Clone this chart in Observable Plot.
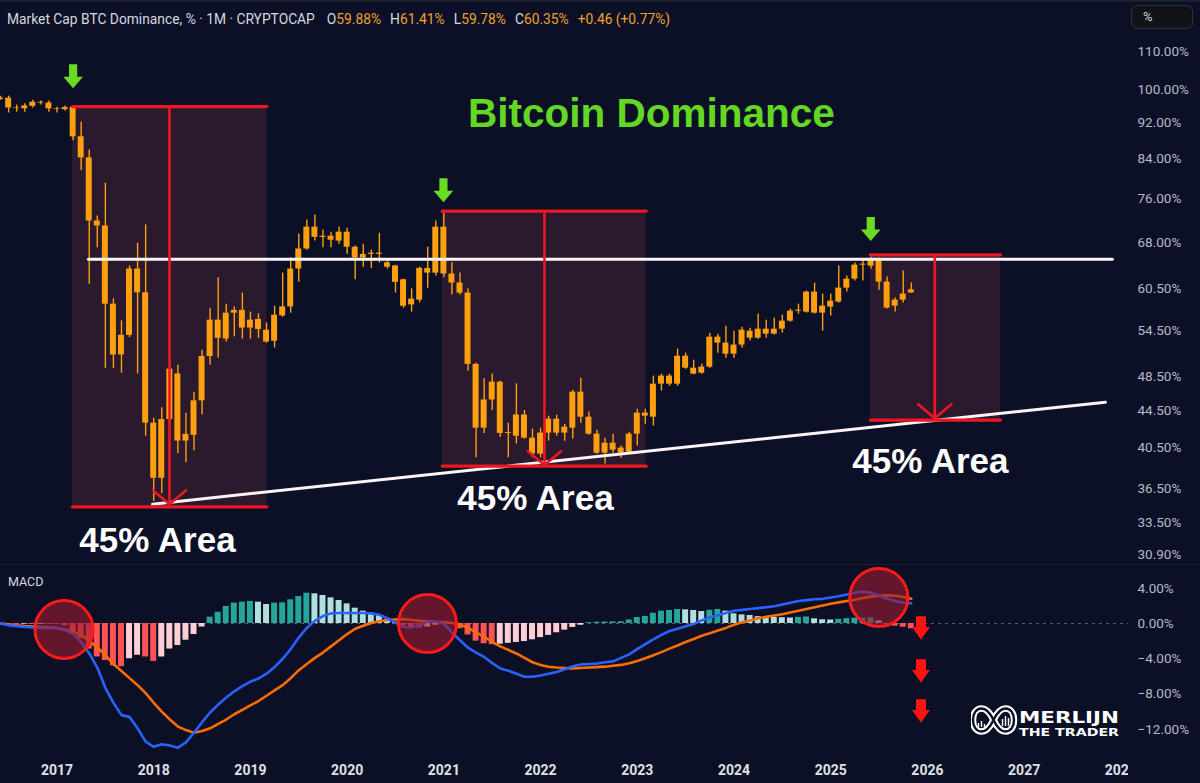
<!DOCTYPE html>
<html>
<head>
<meta charset="utf-8">
<script src="https://cdn.jsdelivr.net/npm/d3@7"></script>
<script src="https://cdn.jsdelivr.net/npm/@observablehq/plot@0.6"></script>
<style>
  html, body { margin:0; padding:0; background:#0b1027; }
  #wrap { position:relative; width:1200px; height:783px; overflow:hidden; background:#0b1027; font-family: Roboto, "Liberation Sans", Arial, sans-serif; }
  #topline { position:absolute; left:0; top:0; width:1200px; height:2px; background:#1b2031; }
  #hdr { position:absolute; left:7px; top:11px; font-size:13.8px; line-height:16px; color:#d6d8de; white-space:nowrap; }
  #hdr span.k { margin-left:9px; }
  #hdr b { font-weight:normal; color:#f0a22a; }
  #pct { position:absolute; left:1131px; top:5px; width:62px; height:24px; box-sizing:border-box; border:1px solid #2c2f38; border-radius:6px; background:#121318; color:#d1d4dc; font-size:13px; line-height:22px; padding-left:11px; }
  #main { position:absolute; left:0; top:35px; }
  #sep { position:absolute; left:0; top:564px; width:1200px; height:1px; background:#1a1f31; }
  #macd { position:absolute; left:0; top:565px; }
  #macdlbl { position:absolute; left:8px; top:574px; font-size:12.5px; color:#d6d8de; }
  #cover { position:absolute; left:1128px; top:750px; width:72px; height:33px; background:#0b1027; }
  #logo { position:absolute; left:971px; top:704px; }
</style>
</head>
<body>
<div id="wrap">
  <div id="topline"></div>
  <div id="hdr">Market Cap BTC Dominance, % · 1M · CRYPTOCAP<span class="k" style="margin-left:12px">O<b>59.88%</b></span><span class="k">H<b>61.41%</b></span><span class="k">L<b>59.78%</b></span><span class="k">C<b>60.35%</b></span><span class="k"><b>+0.46 (+0.77%)</b></span></div>
  <div id="pct">%</div>
  <div id="main"></div>
  <div id="sep"></div>
  <div id="macd"></div>
  <div id="macdlbl">MACD</div>
  <div id="cover"></div>
  <svg id="logo" width="152" height="34" viewBox="0 0 152 34">
    <path d="M22.5,16 C18.5,7.5 14.5,4.5 10.5,4.5 C5,4.5 2,9.5 2,16 C2,22.5 5,27.5 10.5,27.5 C14.5,27.5 18.5,24.5 22.5,16 C26.5,7.5 30.5,4.5 34.5,4.5 C40,4.5 43,9.5 43,16 C43,22.5 40,27.5 34.5,27.5 C30.5,27.5 26.5,24.5 22.5,16 Z" fill="none" stroke="#ffffff" stroke-width="6.5"/>
    <path d="M22.5,16 C18.5,7.5 14.5,4.5 10.5,4.5 C5,4.5 2,9.5 2,16 C2,22.5 5,27.5 10.5,27.5 C14.5,27.5 18.5,24.5 22.5,16 C26.5,7.5 30.5,4.5 34.5,4.5 C40,4.5 43,9.5 43,16 C43,22.5 40,27.5 34.5,27.5 C30.5,27.5 26.5,24.5 22.5,16 Z" fill="none" stroke="#0b1027" stroke-width="2.4"/>
    <path d="M7.5,23 V19 M10.5,23 V17 M13.5,23 V20 M31.5,22 V15 M34.5,22 V12 M37.5,22 V14" stroke="#ffffff" stroke-width="1.4"/>
    <text x="48" y="18.5" font-family="DejaVu Sans, sans-serif" font-size="15" font-weight="bold" fill="#ffffff" textLength="100" lengthAdjust="spacingAndGlyphs">MERLIJN</text>
    <text x="48" y="31.5" font-family="DejaVu Sans, sans-serif" font-size="10" font-weight="bold" fill="#ffffff" textLength="100" lengthAdjust="spacingAndGlyphs">THE TRADER</text>
  </svg>
</div>
<script>
// ---------- DATA ----------
const months = [
  "2016-06","2016-07","2016-08","2016-09","2016-10","2016-11","2016-12",
  "2017-01","2017-02","2017-03","2017-04","2017-05","2017-06","2017-07","2017-08","2017-09","2017-10","2017-11","2017-12",
  "2018-01","2018-02","2018-03","2018-04","2018-05","2018-06","2018-07","2018-08","2018-09","2018-10","2018-11","2018-12",
  "2019-01","2019-02","2019-03","2019-04","2019-05","2019-06","2019-07","2019-08","2019-09","2019-10","2019-11","2019-12",
  "2020-01","2020-02","2020-03","2020-04","2020-05","2020-06","2020-07","2020-08","2020-09","2020-10","2020-11","2020-12",
  "2021-01","2021-02","2021-03","2021-04","2021-05","2021-06","2021-07","2021-08","2021-09","2021-10","2021-11","2021-12",
  "2022-01","2022-02","2022-03","2022-04","2022-05","2022-06","2022-07","2022-08","2022-09","2022-10","2022-11","2022-12",
  "2023-01","2023-02","2023-03","2023-04","2023-05","2023-06","2023-07","2023-08","2023-09","2023-10","2023-11","2023-12",
  "2024-01","2024-02","2024-03","2024-04","2024-05","2024-06","2024-07","2024-08","2024-09","2024-10","2024-11","2024-12",
  "2025-01","2025-02","2025-03","2025-04","2025-05","2025-06","2025-07","2025-08","2025-09","2025-10","2025-11"
];
const open = [
  97.6, 97.9, 95.5, 95.3, 95.9, 96.9, 96.7,
  95.3, 95.1, 95.7, 88.8, 84.2, 71.8, 70.9, 58.2, 51.2, 53.8, 63.6, 59.9,
  43.1, 37.5, 43.5, 48.8, 41.2, 41.8, 45.6, 51.0, 55.9, 53.3, 56.9, 57.3,
  54.8, 56.0, 54.5, 53.0, 56.5, 57.8, 63.6, 66.9, 70.7, 68.9, 69.1, 68.25,
  69.8, 67.2, 65.4, 66.0, 66.2, 64.6, 64.1, 61.9, 58.1, 58.8, 63.7, 62.95,
  70.7, 62.8, 61.4, 59.85, 50.0, 42.56, 45.7, 47.8, 42.0, 41.7, 44.0, 41.5,
  39.86, 42.03, 43.54, 42.03, 42.56, 46.61, 43.76, 41.92, 39.96, 40.98, 40.47, 40.06,
  41.92, 44.21, 43.76, 47.56, 48.54, 47.56, 51.04, 49.52, 48.9, 49.65, 53.55, 52.75,
  51.3, 52.49, 54.37, 53.42, 54.64, 53.96, 54.64, 55.76, 57.19, 57.05, 60.0, 56.9,
  57.77, 58.5, 60.61, 62.0, 64.23, 64.07, 65.05, 61.54, 57.92, 58.8, 59.88
];
const high = [
  98.4, 98.4, 96.2, 96.5, 97.4, 97.2, 97.2,
  95.7, 96.0, 95.8, 92.2, 85.9, 72.7, 79.0, 59.0, 55.8, 64.1, 67.9, 71.1,
  43.65, 44.8, 50.4, 49.9, 44.2, 46.6, 51.8, 57.6, 62.2, 58.2, 57.8, 59.85,
  57.05, 56.8, 55.5, 57.9, 62.95, 65.4, 69.5, 72.0, 72.9, 70.2, 69.8, 70.7,
  70.5, 67.4, 67.7, 66.7, 69.6, 64.9, 64.2, 62.0, 60.5, 63.9, 67.2, 71.8,
  73.25, 64.6, 62.95, 60.5, 50.15, 48.2, 48.8, 47.9, 43.1, 47.6, 44.5, 42.45,
  42.56, 43.87, 43.99, 42.99, 46.84, 48.29, 44.32, 42.35, 41.5, 41.92, 40.68, 42.13,
  44.65, 44.65, 48.54, 48.78, 48.78, 51.96, 51.43, 50.53, 50.02, 54.1, 53.96, 55.06,
  54.37, 54.91, 54.78, 56.76, 55.9, 56.19, 56.62, 57.48, 58.21, 60.15, 61.38, 59.7,
  59.7, 64.07, 62.48, 64.56, 65.21, 65.54, 65.38, 62.32, 59.1, 63.27, 61.41
];
const low = [
  97.4, 94.3, 94.5, 94.5, 95.5, 96.2, 94.5,
  94.3, 94.8, 87.9, 81.5, 61.2, 67.1, 49.5, 49.5, 48.9, 53.5, 48.8, 41.7,
  35.4, 36.1, 43.1, 39.9, 39.0, 40.2, 44.0, 49.9, 50.8, 52.9, 53.6, 53.3,
  53.3, 53.4, 52.75, 52.1, 56.3, 56.9, 61.5, 66.7, 68.25, 67.1, 67.1, 67.7,
  66.0, 61.9, 63.9, 63.7, 64.6, 63.6, 59.85, 57.6, 57.05, 58.4, 60.6, 62.5,
  62.2, 59.55, 59.55, 49.15, 39.5, 42.0, 44.5, 41.6, 39.5, 40.9, 41.4, 39.5,
  39.46, 41.19, 41.71, 41.19, 41.4, 43.1, 41.8, 39.86, 38.87, 39.96, 39.46, 39.86,
  40.68, 42.99, 42.78, 46.73, 47.32, 47.32, 49.39, 48.7, 48.78, 49.52, 51.43, 50.79,
  50.79, 52.09, 53.02, 53.28, 53.42, 53.83, 54.1, 55.62, 56.76, 56.9, 56.76, 54.37,
  56.48, 58.36, 60.0, 61.69, 61.69, 63.58, 60.3, 57.48, 57.05, 58.36, 59.78
];
const close = [
  97.9, 95.5, 95.35, 96.0, 96.9, 96.7, 95.3,
  95.15, 95.6, 88.8, 84.2, 71.8, 70.9, 58.2, 51.2, 53.8, 63.6, 59.9, 43.1,
  37.5, 43.5, 49.4, 41.2, 41.9, 45.6, 51.0, 55.9, 53.4, 56.9, 57.3, 54.8,
  55.9, 54.6, 52.9, 56.6, 57.8, 63.6, 66.9, 70.7, 68.9, 69.1, 68.4, 69.8,
  67.2, 65.4, 66.0, 66.2, 66.0, 63.9, 61.5, 57.9, 58.95, 63.7, 62.95, 70.7,
  62.8, 61.4, 59.85, 50.0, 42.56, 45.7, 47.8, 42.0, 42.1, 44.0, 41.5, 39.86,
  42.03, 43.54, 42.03, 42.67, 46.61, 43.76, 41.92, 39.96, 40.98, 40.26, 39.96, 41.92,
  44.21, 43.87, 47.56, 48.54, 47.56, 51.04, 49.52, 48.78, 49.65, 53.55, 52.75, 51.3,
  52.49, 54.5, 53.42, 54.64, 53.96, 54.64, 55.76, 57.19, 57.33, 60.0, 56.9, 57.92,
  58.65, 60.61, 62.0, 64.23, 64.39, 65.05, 61.54, 57.62, 58.8, 59.7, 60.35
];
// MACD pane (same months)
const macdLine = [
  0.0, -0.2, -0.3, -0.4, -0.45, -0.5, -0.5,
  -0.5, -0.7, -1.2, -2.1, -3.4, -5.0, -7.3, -9.0, -10.4, -10.6, -11.9, -13.4,
  -14.0, -13.7, -13.85, -14.1, -13.5, -12.4, -11.2, -10.1, -9.2, -8.4, -7.7, -7.1,
  -6.6, -6.25, -5.7, -4.95, -4.0, -2.9, -1.6, -0.5, 0.3, 0.85, 1.15, 1.2,
  1.2, 1.2, 1.2, 1.15, 1.0, 0.6, 0.1, -0.4, -0.45, -0.2, 0.25, 0.2,
  0.0, -1.0, -1.9, -2.75, -3.3, -3.8, -4.5, -5.1, -5.35, -5.7, -6.05, -6.05,
  -5.9, -5.7, -5.5, -5.2, -4.85, -4.65, -4.6, -4.55, -4.4, -4.3, -3.9, -3.5,
  -2.9, -2.35, -1.8, -1.3, -0.85, -0.6, -0.3, -0.05, 0.35, 0.7, 0.95, 1.2,
  1.45, 1.55, 1.65, 1.75, 1.85, 1.95, 2.15, 2.35, 2.55, 2.65, 2.75, 2.8,
  2.95, 3.1, 3.3, 3.5, 3.6, 3.5, 3.15, 2.85, 2.55, 2.35, 2.3
];
const signalLine = [
  0.0, -0.1, -0.2, -0.3, -0.35, -0.4, -0.45,
  -0.5, -0.7, -0.9, -1.3, -2.0, -2.7, -3.6, -4.6, -5.4, -6.2, -7.0, -7.9,
  -9.0, -10.0, -10.9, -11.7, -12.1, -12.4, -12.2, -11.9, -11.4, -10.9, -10.3, -9.8,
  -9.3, -8.8, -8.2, -7.6, -7.0, -6.2, -5.3, -4.6, -3.9, -3.3, -2.6, -1.9,
  -1.2, -0.6, -0.25, 0.05, 0.25, 0.4, 0.45, 0.5, 0.4, 0.3, 0.25, 0.2,
  0.15, 0.05, -0.1, -0.5, -1.0, -1.5, -2.1, -2.6, -3.0, -3.4, -3.9, -4.4,
  -4.7, -4.9, -5.0, -5.05, -5.1, -5.05, -5.0, -4.95, -4.9, -4.8, -4.7, -4.5,
  -4.25, -3.95, -3.6, -3.25, -2.85, -2.5, -2.1, -1.75, -1.4, -1.1, -0.8, -0.5,
  -0.15, 0.15, 0.35, 0.6, 0.75, 0.9, 1.05, 1.25, 1.45, 1.65, 1.85, 2.05,
  2.25, 2.4, 2.55, 2.7, 2.9, 3.05, 3.15, 3.2, 3.15, 3.0, 2.8
];
const histogram = [
  -0.05, -0.08, -0.1, -0.08, -0.1, -0.1, -0.05,
  -0.1, -0.25, -1.0, -1.7, -2.9, -3.8, -4.2, -4.8, -4.9, -4.0, -3.6, -3.8,
  -4.3, -3.8, -2.9, -2.5, -1.9, -1.25, -0.4, 0.72, 1.28, 1.93, 2.31, 2.42,
  2.5, 2.42, 2.16, 2.31, 2.35, 2.69, 3.06, 3.44, 3.37, 3.18, 2.91, 2.61,
  2.23, 1.74, 1.4, 1.17, 0.91, 0.42, 0.15, -0.25, -0.45, -0.5, -0.4, -0.2,
  0.05, -0.1, -0.6, -1.3, -2.0, -2.3, -2.4, -2.35, -2.25, -2.15, -2.05, -1.85,
  -1.6, -1.35, -1.05, -0.75, -0.45, -0.2, 0.1, 0.15, 0.16, 0.18, 0.2, 0.4,
  0.68, 0.8, 1.17, 1.4, 1.48, 1.59, 1.55, 1.48, 1.36, 1.5, 1.6, 1.4,
  1.1, 0.98, 0.91, 0.78, 0.74, 0.7, 0.66, 0.62, 0.7, 0.74, 0.53, 0.42,
  0.4, 0.47, 0.55, 0.6, 0.62, 0.64, 0.3, -0.2, -0.3, -0.42, -0.6
];
// axis tick labels
const priceTicks = [110, 100, 92, 84, 76, 68, 60.5, 54.5, 48.5, 44.5, 40.5, 36.5, 33.5, 30.9];
const macdTicks = [4, 0, -4, -8, -12];
const yearLabels = ["2017","2018","2019","2020","2021","2022","2023","2024","2025","2026","2027","2028"];
// annotations (month offset from Jan 2017, dominance %)
const zoneStart = [1.92, 47.8, 100.93];
const zoneEnd = [26.05, 73.1, 117.06];
const zoneTop = [95.85, 73.6, 65.9];
const zoneBottom = [34.9, 38.67, 43.43];
const targetX = [13.96, 60.48, 108.91];
const targetTip = [35.13, 38.77, 43.65];
const zoneLabelX = [12.47, 59.37, 108.37];
const zoneLabelY = [32.0, 35.6, 39.06];
const zoneLabel = "45% Area";
const peakX = [2.0, 47.95, 100.97];
const peakY = [103.5, 77.6, 70.36];
const resistance = [{x: 3.9, y: 65.2}, {x: 130.95, y: 65.2}];
const support = [{x: 11.85, y: 35.13}, {x: 130.09, y: 45.45}];
const titleText = "Bitcoin Dominance";
const titleX = 73.75, titleY = 94.05;
const circleX = [0.87, 45.97, 101.97];
const circleY = [-0.68, 0, 2.95];
const dropX = [107.2, 107.2, 107.2];
const dropY = [-0.51, -5.39, -9.93];

// ---------- BUILD ----------
const ORANGE = "#fd9f0e";
const RED = "#ee1622";
const X_DOMAIN = [-7.01, 132.95];
const FONT = "Roboto, 'Liberation Sans', Arial, sans-serif";
const BOLDFONT = "'Liberation Sans', Arial, sans-serif";

const t0 = months.indexOf("2017-01");
const candles = months.map((m, k) => ({i: k - t0, o: open[k], h: high[k], l: low[k], c: close[k]}));
const zones = zoneStart.map((s, k) => ({x1: s, x2: zoneEnd[k], top: zoneTop[k], bottom: zoneBottom[k], ax: targetX[k], tip: targetTip[k], lx: zoneLabelX[k], ly: zoneLabelY[k]}));
const peaks = peakX.map((x, k) => ({x, y: peakY[k]}));

function blockArrow(shaft, head, mid) {
  return {
    draw(ctx, size) {
      const r = Math.sqrt(size / Math.PI);
      const s = shaft * r, h = head * r, m = mid * r;
      ctx.moveTo(-s, -r); ctx.lineTo(s, -r); ctx.lineTo(s, m); ctx.lineTo(h, m);
      ctx.lineTo(0, r); ctx.lineTo(-h, m); ctx.lineTo(-s, m); ctx.closePath();
    }
  };
}
const greenArrow = blockArrow(0.34, 0.82, 0.05);
const redArrow = blockArrow(0.43, 0.76, -0.08);

const mainSvg = Plot.plot({
  width: 1200, height: 530,
  marginLeft: 0, marginRight: 72, marginTop: 16.5, marginBottom: 10.5,
  style: {background: "transparent", fontFamily: FONT, overflow: "visible"},
  x: {domain: X_DOMAIN, axis: null, label: null},
  y: {type: "log", domain: [30.9, 110], axis: null, label: null},
  marks: [
    Plot.rect(zones, {x1: "x1", x2: "x2", y1: "bottom", y2: "top", fill: "#2b1a2e"}),
    Plot.ruleX(candles, {x: "i", y1: "l", y2: "h", stroke: ORANGE, strokeWidth: 1.4}),
    Plot.rect(candles, {x1: d => d.i - 0.37, x2: d => d.i + 0.37, y1: d => Math.min(d.o, d.c), y2: d => Math.max(d.o, d.c), fill: ORANGE}),
    Plot.line(resistance, {x: "x", y: "y", stroke: "#fbf3f5", strokeWidth: 3}),
    Plot.line(support, {x: "x", y: "y", stroke: "#fbf3f5", strokeWidth: 3}),
    Plot.link(zones, {x1: "x1", x2: "x2", y1: "top", y2: "top", stroke: RED, strokeWidth: 3.2, strokeLinecap: "round"}),
    Plot.link(zones, {x1: "x1", x2: "x2", y1: "bottom", y2: "bottom", stroke: RED, strokeWidth: 3.2, strokeLinecap: "round"}),
    Plot.arrow(zones, {x1: "ax", x2: "ax", y1: "top", y2: "tip", stroke: RED, strokeWidth: 2.6, headLength: 12.5, headAngle: 100}),
    Plot.dot(peaks, {x: "x", y: "y", r: 12, symbol: greenArrow, fill: "#68dc22", stroke: "none"}),
    Plot.text([titleText], {x: titleX, y: titleY, text: d => d, fill: "#62d823", fontSize: 40.5, fontWeight: "bold", fontFamily: BOLDFONT}),
    Plot.text(zones, {x: "lx", y: "ly", text: () => zoneLabel, fill: "#ffffff", fontSize: 35, fontWeight: "bold", fontFamily: BOLDFONT}),
    Plot.axisY({anchor: "right", ticks: priceTicks, tickFormat: d => d.toFixed(2) + "%", tickSize: 0, tickPadding: 9, fontSize: 13.5, fill: "#b7bac3", label: null})
  ]
});
document.getElementById("main").appendChild(mainSvg);

const bars = histogram.map((h, k) => {
  const prev = k > 0 ? histogram[k - 1] : h;
  const color = h >= 0 ? (h > prev ? "#26a69a" : "#b2dfdb") : (h < prev ? "#ff5252" : "#ffcdd2");
  return {i: k - t0, h, color};
});
const macdPts = macdLine.map((v, k) => ({i: k - t0, v}));
const sigPts = signalLine.map((v, k) => ({i: k - t0, v}));
const circles = circleX.map((x, k) => ({x, y: circleY[k]}));
const drops = dropX.map((x, k) => ({x, y: dropY[k]}));

const macdSvg = Plot.plot({
  width: 1200, height: 218,
  marginLeft: 0, marginRight: 72, marginTop: 22.76, marginBottom: 54.28,
  style: {background: "transparent", fontFamily: FONT, overflow: "visible"},
  x: {domain: X_DOMAIN, axis: null, label: null},
  y: {domain: [-12, 4], axis: null, label: null},
  marks: [
    Plot.ruleY([0], {stroke: "#6a6e7c", strokeDasharray: "3,4", strokeOpacity: 0.8}),
    Plot.rect(bars, {x1: d => d.i - 0.37, x2: d => d.i + 0.37, y1: 0, y2: "h", fill: "color"}),
    Plot.line(sigPts, {x: "i", y: "v", stroke: "#ff6d00", strokeWidth: 2.6}),
    Plot.line(macdPts, {x: "i", y: "v", stroke: "#2962ff", strokeWidth: 2.6}),
    Plot.dot(circles, {x: "x", y: "y", r: 29, fill: "#9b1b30", fillOpacity: 0.62, stroke: "#ff1a1a", strokeWidth: 3}),
    Plot.dot(drops, {x: "x", y: "y", r: 11.7, symbol: redArrow, fill: "#ff1212", stroke: "none"}),
    Plot.axisY({anchor: "right", ticks: macdTicks, tickFormat: d => (d < 0 ? "\u2212" : "") + Math.abs(d).toFixed(2) + "%", tickSize: 0, tickPadding: 9, fontSize: 13.5, fill: "#b7bac3", label: null}),
    Plot.axisX({anchor: "bottom", ticks: yearLabels.map((y, k) => 12 * k), tickFormat: d => yearLabels[Math.round(d / 12)], tickSize: 0, tickPadding: 36, fontSize: 14, fontWeight: "bold", fill: "#dfe1e6", label: null})
  ]
});
document.getElementById("macd").appendChild(macdSvg);
</script>
</body>
</html>
